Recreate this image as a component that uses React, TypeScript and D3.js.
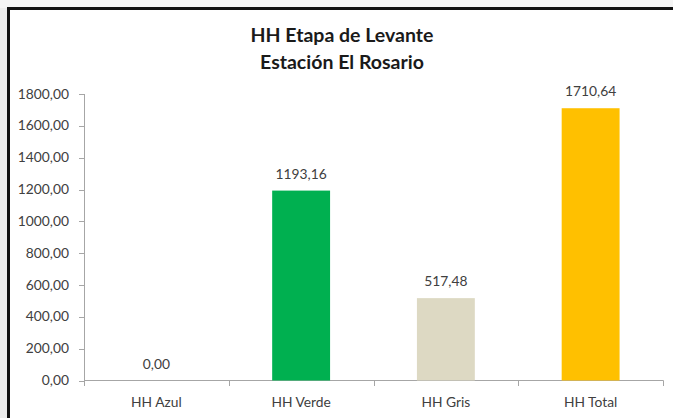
import React from "react";
import * as d3 from "d3";

const categories = ["HH Azul", "HH Verde", "HH Gris", "HH Total"];
const values = [0, 1193.16, 517.48, 1710.64];
const barColors = ["#4f81bd", "#00b050", "#ddd9c3", "#ffc000"];
const yTicks = [0, 200, 400, 600, 800, 1000, 1200, 1400, 1600, 1800];
const titleLines = ["HH Etapa de Levante", "Estación El Rosario"];

const W = 673;
const H = 418;
const FONT = "Lato, 'Open Sans', sans-serif";

const fmt = (v: number) => v.toFixed(2).replace(".", ",");

export default function App() {
  const x = d3.scaleBand<string>().domain(categories).range([84, 663]).paddingInner(0.6).paddingOuter(0.3);
  const xb = d3.scaleBand<string>().domain(categories).range([84, 663]);
  const y = d3.scaleLinear().domain([0, 1800]).range([380.5, 94]);
  const axisColor = "#a6a6a6";
  const textColor = "#404040";
  return (
    <svg width={W} height={H} style={{ position: "absolute", left: 0, top: 0, display: "block" }}>
      <rect x={0} y={0} width={W} height={H} fill="#ececec" />
      <rect x={0} y={0} width={W} height={8} fill="#f4f4f4" />
      <rect x={8.5} y={8.5} width={W} height={H} fill="#ffffff" stroke="#111" strokeWidth={3} />
      {titleLines.map((t, i) => (
        <text key={t} x={342} y={42 + i * 27} textAnchor="middle" fontFamily={FONT} fontWeight="bold" fontSize={19.5} fill="#1a1a1a">
          {t}
        </text>
      ))}
      {/* y axis */}
      <line x1={84.5} x2={84.5} y1={y(1800)} y2={y(0)} stroke={axisColor} />
      {yTicks.map((t) => (
        <g key={t}>
          <line x1={79} x2={84.5} y1={Math.round(y(t)) + 0.5} y2={Math.round(y(t)) + 0.5} stroke={axisColor} />
          <text x={69} y={y(t) + 4.5} textAnchor="end" fontFamily={FONT} fontSize={13.8} fill={textColor}>
            {fmt(t)}
          </text>
        </g>
      ))}
      {/* x axis */}
      <line x1={84} x2={663.5} y1={380.5} y2={380.5} stroke={axisColor} />
      {[...categories.map((c) => xb(c) as number), 663].map((px, i) => (
        <line key={i} x1={Math.round(px) + 0.5} x2={Math.round(px) + 0.5} y1={380.5} y2={386} stroke={axisColor} />
      ))}
      {categories.map((c, i) => (
        <g key={c}>
          {values[i] > 0 && (
            <rect x={x(c)} y={y(values[i])} width={x.bandwidth()} height={y(0) - y(values[i])} fill={barColors[i]} />
          )}
          <text x={(x(c) as number) + x.bandwidth() / 2} y={y(values[i]) - 12} textAnchor="middle" fontFamily={FONT} fontSize={13.8} fill={textColor}>
            {fmt(values[i])}
          </text>
          <text x={(xb(c) as number) + xb.bandwidth() / 2} y={407} textAnchor="middle" fontFamily={FONT} fontSize={13.8} fill={textColor}>
            {c}
          </text>
        </g>
      ))}
    </svg>
  );
}
